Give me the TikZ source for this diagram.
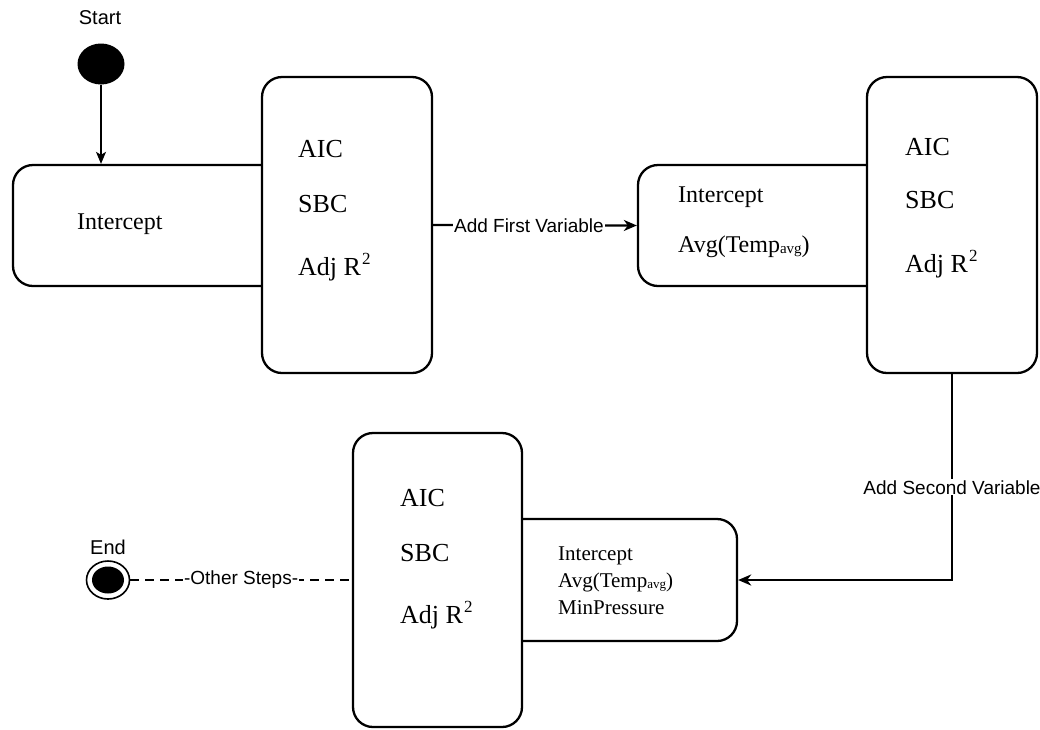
\documentclass[tikz,border=0pt]{standalone}
\usepackage{fontspec}
\setmainfont{Liberation Serif}
\setsansfont{Liberation Sans}
\usetikzlibrary{arrows.meta,shapes.geometric}
% raised square and small subscript used in the model boxes
\newcommand\sqmark{\kern1pt\raisebox{11pt}{\fontsize{17}{17}\selectfont 2}}
\newcommand\avgsub[1]{\raisebox{-1.5pt}{\fontsize{#1}{#1}\selectfont avg}}
\begin{document}
\begin{tikzpicture}[x=1pt,y=-1pt,
  panel/.style={draw, line width=2.3pt, rounded corners=20pt, inner sep=0pt},
  tallbox/.style={panel, fill=white, minimum width=170pt, minimum height=296pt},
  metric/.style={anchor=base west, inner sep=0pt, font=\fontsize{26}{26}\selectfont},
  term/.style={anchor=base west, inner sep=0pt, font=\fontsize{24}{24}\selectfont},
  smallterm/.style={anchor=base west, inner sep=0pt, font=\fontsize{21}{21}\selectfont},
  caption/.style={inner sep=0pt, font=\sffamily\fontsize{20}{20}\selectfont},
  lbl/.style={fill=white, inner sep=1pt, font=\sffamily\fontsize{19}{19}\selectfont},
  flow/.style={line width=2.2pt, -{Stealth[length=13pt,width=11pt,inset=4pt]}},
]
\useasboundingbox (0,0) rectangle (1040,729);

% wide boxes holding the model terms (right/left ends run under the tall boxes)
\node[panel, minimum width=280pt, minimum height=121pt] (boxA) at (153,225.5) {};
\node[panel, minimum width=257pt, minimum height=121pt] (boxB) at (766.5,225.5) {};
\node[panel, minimum width=242pt, minimum height=122pt] (boxC) at (616,580) {};

% tall boxes holding the fit criteria
\node[tallbox] (tallA) at (347,225) {};
\node[tallbox] (tallB) at (952,225) {};
\node[tallbox, minimum width=169pt, minimum height=294pt] (tallC) at (437.5,580) {};

% start and end markers
\node[caption] (startlbl) at (100,18) {Start};
\node[ellipse, fill=black, minimum width=47pt, minimum height=41pt, inner sep=0pt] (startdot) at (101,64) {};
\node[caption] (endlbl) at (108,547) {End};
\node[ellipse, draw, line width=1.6pt, minimum width=43pt, minimum height=38pt, inner sep=0pt] (enddot) at (108,580) {};
\node[ellipse, fill=black, minimum width=32pt, minimum height=27pt, inner sep=0pt] (enddotcore) at (enddot) {};

% texts of the first step
\node[term] (a1) at (77,229) {Intercept};
\node[metric] (m11) at (298,157) {AIC};
\node[metric] (m12) at (298,212) {SBC};
\node[metric] (m13) at (298,275) {Adj R\sqmark};

% texts of the second step
\node[term] (b1) at (678,202) {Intercept};
\node[term] (b2) at (678,252) {Avg(Temp\avgsub{15})};
\node[metric] (m21) at (905,155) {AIC};
\node[metric] (m22) at (905,208) {SBC};
\node[metric] (m23) at (905,272) {Adj R\sqmark};

% texts of the third step
\node[smallterm] (c1) at (558,560) {Intercept};
\node[smallterm] (c2) at (558,587) {Avg(Temp\avgsub{13})};
\node[smallterm] (c3) at (558,614) {MinPressure};
\node[metric] (m31) at (400,506) {AIC};
\node[metric] (m32) at (400,561) {SBC};
\node[metric] (m33) at (400,623) {Adj R\sqmark};

% connectors
\draw[line width=1.4pt, -{Stealth[length=12pt,width=10pt,inset=3pt]}]
  (startdot) -- (startdot |- boxA.north);
\draw[flow] (tallA.east) -- node[lbl, pos=0.47] {Add First Variable} (boxB.west);
\draw[flow] (tallB.south) -- node[lbl, pos=0.55] {Add Second Variable}
  (tallB.south |- boxC.east) -- (boxC.east);
\draw[line width=2.3pt, dash pattern=on 9pt off 6pt] (enddot.east)
  -- node[lbl, pos=0.5] {-Other Steps-} (tallC.west |- enddot.east);
\end{tikzpicture}
\end{document}
